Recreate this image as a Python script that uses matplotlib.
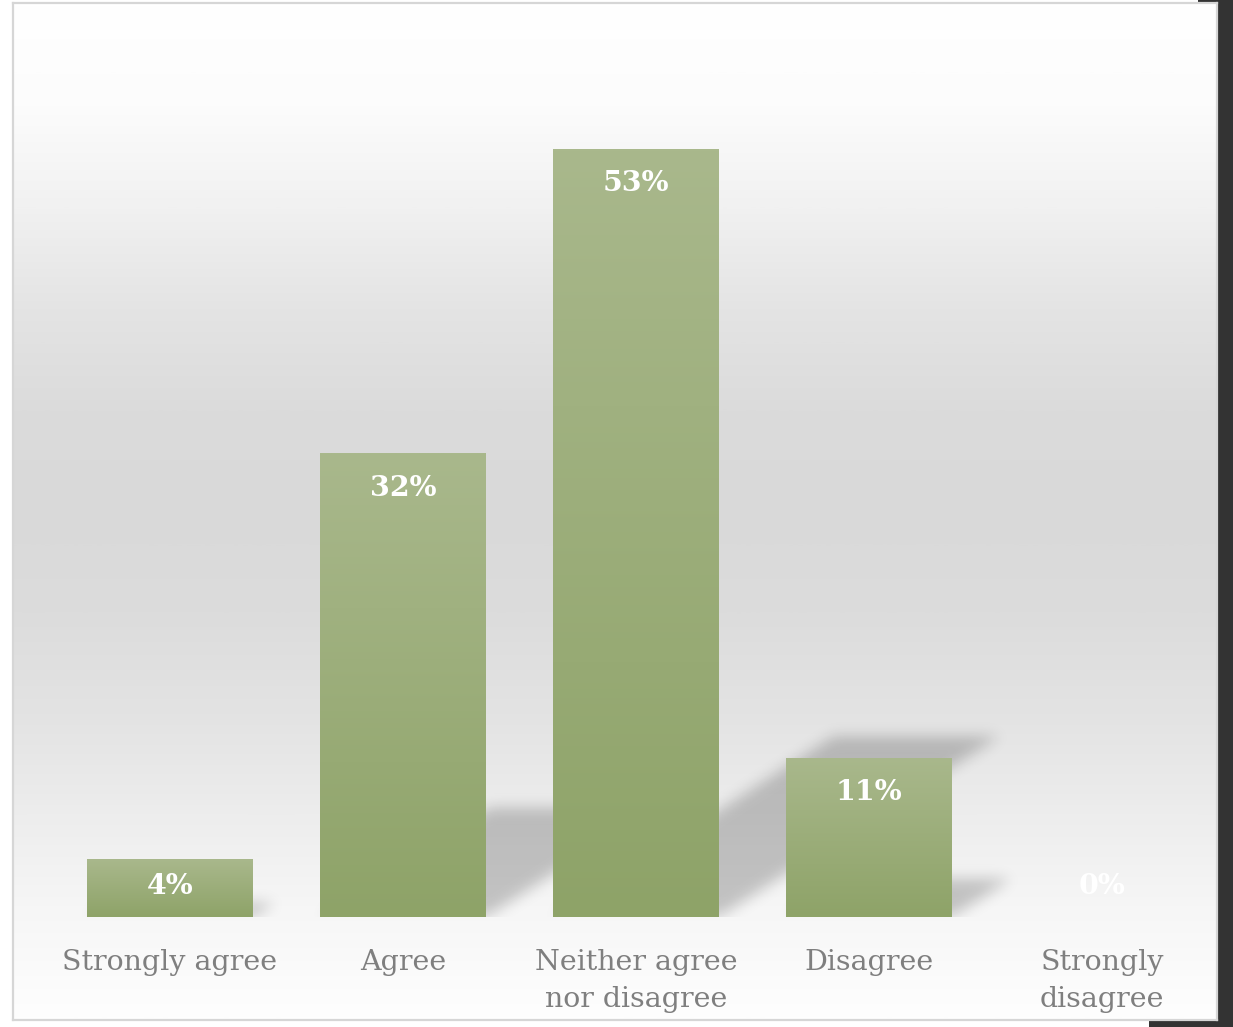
import numpy as np
import matplotlib
matplotlib.use("Agg")
import matplotlib.pyplot as plt
from matplotlib.patches import Rectangle
from matplotlib.path import Path
from matplotlib.colors import LinearSegmentedColormap, to_rgb

# --- data -------------------------------------------------------------
categories = ["Strongly agree", "Agree", "Neither agree\nnor disagree",
              "Disagree", "Strongly\ndisagree"]
values = [4, 32, 53, 11, 0]
value_labels = ["4%", "32%", "53%", "11%", "0%"]

# --- figure -----------------------------------------------------------
W, H = 1233, 1027
DPI = 100
fig = plt.figure(figsize=(W / DPI, H / DPI), dpi=DPI)
fig.patch.set_facecolor("white")

def fx(px):
    return px / W

def fy(py):
    return 1 - py / H

# dark backdrop peeking out on the right/bottom of the chart frame
fig.patches.append(Rectangle((fx(1198), 0), fx(W - 1198), 1, transform=fig.transFigure,
                             facecolor="#333333", edgecolor="none", zorder=-10))
fig.patches.append(Rectangle((fx(1149), 0), fx(W - 1149), fy(1020), transform=fig.transFigure,
                             facecolor="#333333", edgecolor="none", zorder=-10))

# chart frame with a soft vertical grey gradient
frame_l, frame_t, frame_r, frame_b = 13, 3, 1217, 1020
ax_bg = fig.add_axes([fx(frame_l), fy(frame_b), fx(frame_r - frame_l), (frame_b - frame_t) / H])
ax_bg.set_zorder(1)
stops = [(0.00, "#ffffff"), (0.10, "#fcfcfc"), (0.20, "#f1f1f1"), (0.30, "#e4e4e4"),
         (0.40, "#dbdbdb"), (0.50, "#d9d9d9"), (0.60, "#dcdcdc"), (0.70, "#e3e3e3"),
         (0.79, "#ececec"), (0.89, "#f6f6f6"), (1.00, "#fefefe")]
bg_cmap = LinearSegmentedColormap.from_list("bg", stops)
grad = np.linspace(0, 1, 512).reshape(-1, 1)
ax_bg.imshow(grad, cmap=bg_cmap, aspect="auto", extent=(0, 1, 1, 0), vmin=0, vmax=1)
ax_bg.set_xlim(0, 1)
ax_bg.set_ylim(1, 0)
ax_bg.set_xticks([])
ax_bg.set_yticks([])
for sp in ax_bg.spines.values():
    sp.set_color("#d6d6d6")
    sp.set_linewidth(1.6)

# --- plot area --------------------------------------------------------
ymax = 60
plot_l, plot_r, plot_base, plot_top = 53.5, 1218.5, 917, 47
ax = fig.add_axes([fx(plot_l), fy(plot_base), fx(plot_r - plot_l), (plot_base - plot_top) / H])
ax.set_zorder(2)
ax.patch.set_alpha(0)
ax.set_xlim(-0.5, len(values) - 0.5)
ax.set_ylim(0, ymax)
for sp in ax.spines.values():
    sp.set_visible(False)
ax.set_yticks([])

bar_w = 0.712
x = np.arange(len(values))

# perspective shadows cast up and to the right, blurred
px_per_y = (plot_base - plot_top) / ymax
sh_scale, sh_shear = 0.235, 0.0227
sh_ytop = 17
nx = int(plot_r - plot_l)
ny = int(sh_ytop * px_per_y)
gx = np.linspace(-0.5, len(values) - 0.5, nx)
gy = np.linspace(0, sh_ytop, ny)
GX, GY = np.meshgrid(gx, gy)
pts = np.column_stack([GX.ravel(), GY.ravel()])
mask = np.zeros(GX.size)
for xi, v in zip(x, values):
    if v <= 0:
        continue
    x0, x1 = xi - bar_w / 2, xi + bar_w / 2
    dx, hh = v * sh_shear, v * sh_scale
    poly = Path([(x0, 0), (x1, 0), (x1 + dx, hh), (x0 + dx, hh), (x0, 0)])
    mask = np.maximum(mask, poly.contains_points(pts).astype(float))
mask = mask.reshape(GX.shape)

def gauss_blur(a, sigma):
    r = int(3 * sigma)
    k = np.exp(-0.5 * (np.arange(-r, r + 1) / sigma) ** 2)
    k /= k.sum()
    a = np.pad(a, r, mode="constant")
    a = np.apply_along_axis(lambda m: np.convolve(m, k, mode="same"), 0, a)
    a = np.apply_along_axis(lambda m: np.convolve(m, k, mode="same"), 1, a)
    return a[r:-r, r:-r]

mask = gauss_blur(mask, 7)
shadow = np.zeros(mask.shape + (4,))
shadow[..., 3] = mask * 0.21
ax.imshow(shadow, origin="lower", aspect="auto",
          extent=(-0.5, len(values) - 0.5, 0, sh_ytop), zorder=1, interpolation="bilinear")

# bars with a vertical green gradient
bars = ax.bar(x, values, width=bar_w, color="none", edgecolor="none", zorder=2)
top_c, bot_c = np.array(to_rgb("#a9b88c")), np.array(to_rgb("#8ea368"))
for b, v in zip(bars, values):
    if v <= 0:
        continue
    t = np.linspace(0, 1, 256).reshape(-1, 1, 1)
    img = top_c * (1 - t) + bot_c * t
    x0 = b.get_x()
    im = ax.imshow(img, aspect="auto", extent=(x0, x0 + b.get_width(), 0, v),
                   origin="upper", zorder=2)
    im.set_clip_path(b)
ax.set_xlim(-0.5, len(values) - 0.5)
ax.set_ylim(0, ymax)

# value labels inside the bar ends
serif = ["DejaVu Serif"]
off_top = 35 / px_per_y
min_y = 31 / px_per_y
for xi, v, lab in zip(x, values, value_labels):
    ax.text(xi, max(v - off_top, min_y), lab, ha="center", va="center",
            color="white", fontsize=20.5, fontweight="bold", family=serif, zorder=3)

ax.set_xticks(x)
ax.set_xticklabels(categories, family=serif, fontsize=20.5, color="#7f7f7f",
                   linespacing=1.5)
ax.tick_params(axis="x", length=0, pad=23)

fig.savefig("out.png", dpi=DPI)
